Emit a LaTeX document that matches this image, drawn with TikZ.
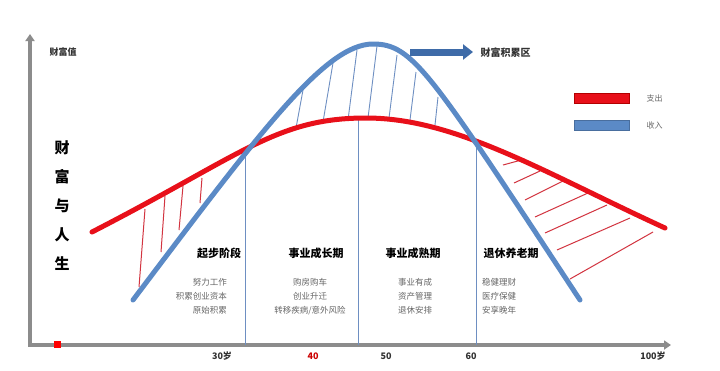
\documentclass[tikz,border=0pt]{standalone}
\usepackage{fontspec}
\setmainfont{Noto Sans CJK SC}
\usetikzlibrary{arrows.meta}
\definecolor{axisgray}{HTML}{8C8C8C}
\definecolor{incblue}{HTML}{5B8AC6}
\definecolor{darkblue}{HTML}{3E6BA8}
\definecolor{thinblue}{HTML}{6E8FC2}
\definecolor{expred}{HTML}{E8101A}
\definecolor{hatchred}{HTML}{D23440}
\definecolor{subgray}{HTML}{666666}
\definecolor{labdark}{HTML}{333333}
\tikzset{
  axisline/.style={draw=axisgray, line width=4pt, line join=miter},
  income/.style={draw=incblue, line width=5pt, line cap=round},
  expense/.style={draw=expred, line width=5pt, line cap=round},
  divider/.style={draw=thinblue, line width=1pt},
  bluehatch/.style={draw=thinblue, line width=0.9pt},
  redhatch/.style={draw=hatchred, line width=1pt},
  phase/.style={font=\bfseries\fontsize{11}{13}\selectfont, text=black},
  sub/.style={font=\fontsize{8.5}{14}\selectfont, text=subgray, inner sep=0pt},
  tick/.style={font=\bfseries\fontsize{9}{11}\selectfont, text=labdark},
  legtext/.style={font=\fontsize{8}{10}\selectfont, text=subgray, anchor=west}
}
\begin{document}
\begin{tikzpicture}[x=1pt,y=-1pt]
\useasboundingbox[fill=white] (0,0) rectangle (720,370);

% axes
\coordinate (O) at (30,345);
\coordinate (ytop) at (30,34);
\coordinate (xend) at (671,345);
\draw[axisline, {Triangle[length=7pt,width=9pt]}-{Triangle[length=7pt,width=9pt]}] (ytop) -- (O) -- (xend);
\node[fill=red, minimum size=7pt, inner sep=0pt] (sq) at (57,344) {};

% axis texts
\node[font=\bfseries\fontsize{9}{11}\selectfont, text=labdark] (ylab) at (63,52) {财富值};
\node[align=center, font=\bfseries\fontsize{15}{29}\selectfont] (title) at (62,206) {财\\富\\与\\人\\生};

\node[tick] (t30) at (222,356) {30岁};
\node[tick, text=red!80!black] (t40) at (313,356) {40};
\node[tick] (t50) at (386,356) {50};
\node[tick] (t60) at (471,356) {60};
\node[tick] (t100) at (653,356) {100岁};

% dividers
\coordinate (d1t) at (245,152); \coordinate (d1b) at (245,345);
\coordinate (d2t) at (358,120); \coordinate (d2b) at (358,345);
\coordinate (d3t) at (476,146); \coordinate (d3b) at (476,345);
\draw[divider] (d1t) -- (d1b);
\draw[divider] (d2t) -- (d2b);
\draw[divider] (d3t) -- (d3b);

% hatching left (red)
\draw[redhatch] (145,209) -- (139,287);
\draw[redhatch] (165,196) -- (161,252);
\draw[redhatch] (183,186) -- (179,230);
\draw[redhatch] (202,178) -- (200,203);

% hatching middle (blue)
\draw[bluehatch] (303,90) -- (296,128);
\draw[bluehatch] (333,63) -- (323,122);
\draw[bluehatch] (357,50) -- (348,120);
\draw[bluehatch] (377,46) -- (368,118);
\draw[bluehatch] (397,55) -- (389,118);
\draw[bluehatch] (416,72) -- (410,120);
\draw[bluehatch] (438,97) -- (435,125);

% hatching right (red)
\draw[redhatch] (503,165) -- (525,159);
\draw[redhatch] (514,183) -- (540,171);
\draw[redhatch] (525,200) -- (563,181);
\draw[redhatch] (535,217) -- (588,193);
\draw[redhatch] (545,233) -- (607,205);
\draw[redhatch] (557,250) -- (630,218);
\draw[redhatch] (570,279) -- (653,232);

% curves
\coordinate (r0) at (92,232); \coordinate (rp) at (366,118); \coordinate (r1) at (665,228);
\draw[expense] (r0) .. controls (242,155) and (276,118) .. (rp)
                    .. controls (456,118) and (545,173) .. (r1);
\coordinate (b0) at (133,300); \coordinate (bp) at (373,44); \coordinate (b1) at (580,300);
\draw[income] (b0) .. controls (260,132) and (325,44) .. (bp)
                   .. controls (413,44) and (430,72) .. (b1);

% wealth accumulation arrow
\coordinate (a0) at (410,52); \coordinate (a1) at (473,52);
\draw[draw=darkblue, line width=7pt, -{Triangle[length=10pt,width=15pt]}] (a0) -- (a1);
\node[font=\bfseries\fontsize{10}{12}\selectfont, text=labdark, anchor=west] (acc) at (477,53) {财富积累区};

% legend
\node[draw=red!70!black, fill=expred, minimum width=55pt, minimum height=10pt, inner sep=0pt, line width=0.5pt] (legr) at (602,98) {};
\node[legtext] (legrt) at (643,98) {支出};
\node[draw=incblue!80!black, fill=incblue, minimum width=55pt, minimum height=10pt, inner sep=0pt, line width=0.5pt] (legb) at (602,125) {};
\node[legtext] (legbt) at (643,125) {收入};

% phase titles
\node[phase] (p1) at (219,253) {起步阶段};
\node[phase] (p2) at (316,253) {事业成长期};
\node[phase] (p3) at (413,253) {事业成熟期};
\node[phase] (p4) at (511,253) {退休养老期};

% sub texts
\node[sub, align=right, anchor=north east] (s1) at (227,278) {努力工作\\积累创业资本\\原始积累};
\node[sub, align=center, anchor=north] (s2) at (310,278) {购房购车\\创业升迁\\转移疾病/意外风险};
\node[sub, align=center, anchor=north] (s3) at (415,278) {事业有成\\资产管理\\退休安排};
\node[sub, align=left, anchor=north west] (s4) at (482,278) {稳健理财\\医疗保健\\安享晚年};
\end{tikzpicture}
\end{document}
